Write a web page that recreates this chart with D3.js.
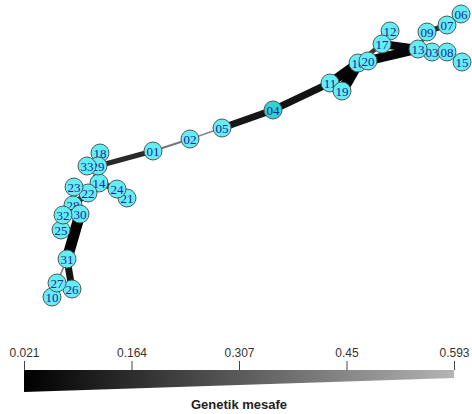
<!DOCTYPE html>
<html>
<head>
<meta charset="utf-8">
<script src="https://cdn.jsdelivr.net/npm/d3@7"></script>
<style>
  body { margin: 0; background: #fff; }
</style>
</head>
<body>
<div id="chart"></div>
<script>
// Node ids and their layout coordinates (two ordination dimensions)
const nodeIds = ["01","02","03","04","05","06","07","08","09","10","11","12","13","14","15","16","17",
  "18","19","20","21","22","23","24","25","26","27","28","29","30","31","32","33"];
const dim1 = [-1.03,-0.66,1.76,0.17,-0.34,2.05,1.91,1.91,1.71,-2.04,0.74,1.34,1.62,-1.57,2.06,1.02,1.26,
  -1.56,0.86,1.12,-1.29,-1.68,-1.82,-1.39,-1.95,-1.84,-1.99,-1.83,-1.58,-1.76,-1.89,-1.93,-1.69];
const dim2 = [0.09,0.21,1.08,0.50,0.32,1.46,1.35,1.08,1.28,-1.37,0.77,1.29,1.11,-0.23,0.98,0.97,1.16,
  0.07,0.69,0.99,-0.38,-0.33,-0.27,-0.29,-0.70,-1.29,-1.23,-0.45,-0.06,-0.54,-0.99,-0.55,-0.06];

// Links between nodes and their genetic distance
const linkSource = ["06","07","09","12","17","17","16","13","03","08","19","11","11","04","05","02","01",
  "29","29","29","29","14","24","23","22","28","28","28","32","30","31","31","27"];
const linkTarget = ["07","09","13","17","13","16","13","03","08","15","16","16","19","11","04","05","02",
  "01","18","33","14","24","21","22","29","22","30","32","25","31","26","27","10"];
const linkDist = [0.25,0.15,0.3,0.3,0.06,0.2,0.04,0.25,0.25,0.3,0.021,0.04,0.1,0.08,0.09,0.45,0.4,
  0.15,0.3,0.2,0.12,0.12,0.25,0.12,0.35,0.1,0.15,0.2,0.2,0.021,0.08,0.45,0.3];

const legendTicks = [0.021, 0.164, 0.307, 0.45, 0.593];

const width = 472, height = 414;

const svg = d3.select("#chart")
  .append("svg")
  .attr("width", width)
  .attr("height", height);

// Scales for the layout
const x = d3.scaleLinear().domain([-2, 2]).range([56, 456]);
const y = d3.scaleLinear().domain([1.5, -1.5]).range([10, 310]);

const distExtent = [legendTicks[0], legendTicks[legendTicks.length - 1]];
const color = d3.scaleLinear().domain(distExtent).range(["#000000", "#b4b4b4"]);
const strokeW = d3.scaleLog().domain(distExtent).range([11, 1]);

const nodes = nodeIds.map((id, i) => ({ id, d1: dim1[i], d2: dim2[i] }));
const byId = new Map(nodes.map(d => [d.id, d]));
const links = linkSource.map((s, i) => ({ s: byId.get(s), t: byId.get(linkTarget[i]), dist: linkDist[i] }));

// Links, lightest/longest first
svg.append("g")
  .selectAll("line")
  .data(links.slice().sort((a, b) => b.dist - a.dist))
  .join("line")
  .attr("x1", d => x(d.s.d1))
  .attr("y1", d => y(d.s.d2))
  .attr("x2", d => x(d.t.d1))
  .attr("y2", d => y(d.t.d2))
  .attr("stroke", d => color(d.dist))
  .attr("stroke-width", d => strokeW(d.dist));

// Nodes
const node = svg.append("g")
  .selectAll("g")
  .data(nodes)
  .join("g")
  .attr("transform", d => `translate(${x(d.d1)},${y(d.d2)})`);

node.append("circle")
  .attr("r", 9)
  .attr("fill", d => d.id === "04" ? "#2fd3d3" : "#62eff4")
  .attr("stroke", "#555")
  .attr("stroke-width", 1);

node.append("text")
  .attr("text-anchor", "middle")
  .attr("dy", "0.35em")
  .style("font-family", "'Liberation Serif', 'Times New Roman', serif")
  .style("font-size", "13px")
  .attr("fill", "#2020a8")
  .text(d => d.id);

// Colour bar legend
const lx = d3.scaleLinear().domain(distExtent).range([24, 454]);

const grad = svg.append("defs").append("linearGradient")
  .attr("id", "distGrad")
  .attr("x1", "0%").attr("x2", "100%");
grad.append("stop").attr("offset", "0%").attr("stop-color", color(distExtent[0]));
grad.append("stop").attr("offset", "100%").attr("stop-color", color(distExtent[1]));

const barTop = 370;
svg.append("path")
  .attr("d", `M${lx(distExtent[0])},${barTop} L${lx(distExtent[1])},${barTop} L${lx(distExtent[1])},${barTop + 8} L${lx(distExtent[0])},${barTop + 22} Z`)
  .attr("fill", "url(#distGrad)");

const axis = svg.append("g")
  .attr("transform", `translate(0,${barTop})`)
  .call(d3.axisTop(lx).tickValues(legendTicks).tickSize(9).tickPadding(4).tickFormat(d => String(d)));
axis.select(".domain").remove();
axis.selectAll(".tick line").attr("stroke", "#444");
axis.selectAll(".tick text")
  .style("font-family", "'Liberation Sans', Arial, sans-serif")
  .style("font-size", "12px")
  .attr("fill", "#333");

svg.append("text")
  .attr("x", (lx.range()[0] + lx.range()[1]) / 2)
  .attr("y", 409)
  .attr("text-anchor", "middle")
  .style("font-family", "'Liberation Sans', Arial, sans-serif")
  .style("font-size", "13px")
  .style("font-weight", "bold")
  .attr("fill", "#222")
  .text("Genetik mesafe");
</script>
</body>
</html>
